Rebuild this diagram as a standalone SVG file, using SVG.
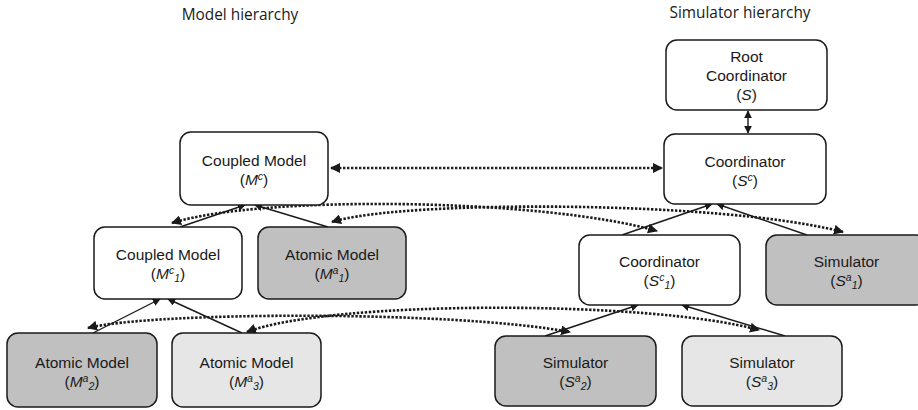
<svg xmlns="http://www.w3.org/2000/svg" width="918" height="410" viewBox="0 0 918 410">
<defs>
<style>
.box{stroke:#1a1a1a;stroke-width:1.5}
.w{fill:#ffffff}
.d{fill:#c0c0c0}
.l{fill:#e6e6e6}
.t{font-family:"Liberation Sans",Arial,sans-serif;font-size:15.5px;fill:#1a1a1a;text-anchor:middle}
.s{font-size:10.5px;font-style:italic}
.i{font-style:italic}
.title{font-family:"Open Sans","Liberation Sans",sans-serif;font-size:15.4px;fill:#1a1a1a;text-anchor:middle}
.solid{fill:none;stroke:#1a1a1a;stroke-width:1.4}
.dot{fill:none;stroke:#1a1a1a;stroke-width:2.6;stroke-dasharray:2.4 1.6}
</style>
<marker id="ah" viewBox="0 0 10 10" refX="9" refY="5" markerWidth="8" markerHeight="8" markerUnits="userSpaceOnUse" orient="auto-start-reverse">
<path d="M0,0 L10,5 L0,10 z" fill="#1a1a1a"/>
</marker>
<marker id="ahd" viewBox="0 0 10 10" refX="9" refY="5" markerWidth="10" markerHeight="10" markerUnits="userSpaceOnUse" orient="auto-start-reverse">
<path d="M0,0 L10,5 L0,10 z" fill="#1a1a1a"/>
</marker>
</defs>
<rect width="918" height="410" fill="#ffffff"/>
<text class="title" x="240" y="20">Model hierarchy</text>
<text class="title" x="740" y="18">Simulator hierarchy</text>

<g id="connectors">
<line class="solid" x1="180" y1="227" x2="245" y2="205" marker-end="url(#ah)"/>
<line class="solid" x1="328" y1="227" x2="255" y2="205" marker-end="url(#ah)"/>
<line class="solid" x1="93" y1="333" x2="160" y2="299" marker-end="url(#ah)"/>
<line class="solid" x1="242" y1="333" x2="168" y2="299" marker-end="url(#ah)"/>
<line class="solid" x1="622" y1="235" x2="712" y2="204" marker-end="url(#ah)"/>
<line class="solid" x1="807" y1="235" x2="717" y2="204" marker-end="url(#ah)"/>
<line class="solid" x1="545" y1="336" x2="638" y2="305" marker-end="url(#ah)"/>
<line class="solid" x1="785" y1="336" x2="682" y2="305" marker-end="url(#ah)"/>
<line class="solid" x1="748" y1="111" x2="748" y2="133" marker-start="url(#ah)" marker-end="url(#ah)"/>
<line class="dot" x1="331" y1="168" x2="662" y2="168" marker-start="url(#ahd)" marker-end="url(#ahd)"/>
<path class="dot" d="M172,223 C260,195 540,198 657,231" marker-start="url(#ahd)" marker-end="url(#ahd)"/>
<path class="dot" d="M332,222 C400,200 720,200 843,232" marker-start="url(#ahd)" marker-end="url(#ahd)"/>
<path class="dot" d="M88,328 C150,312 450,310 570,332" marker-start="url(#ahd)" marker-end="url(#ahd)"/>
<path class="dot" d="M247,332 C330,300 650,300 759,330" marker-start="url(#ahd)" marker-end="url(#ahd)"/>
</g>

<g id="mc">
<rect class="box w" x="180" y="132" width="148" height="73" rx="11"/>
<text class="t" x="254" y="166">Coupled Model</text>
<text class="t" x="254" y="185">(<tspan class="i">M</tspan><tspan class="s" dy="-5">c</tspan><tspan dy="5">)</tspan></text>
</g>
<g id="root">
<rect class="box w" x="666" y="40" width="161" height="70" rx="11"/>
<text class="t" x="746.5" y="62">Root</text>
<text class="t" x="746.5" y="81">Coordinator</text>
<text class="t" x="746.5" y="100">(<tspan class="i">S</tspan>)</text>
</g>
<g id="sc">
<rect class="box w" x="664" y="134" width="162" height="70" rx="11"/>
<text class="t" x="745" y="167">Coordinator</text>
<text class="t" x="745" y="186">(<tspan class="i">S</tspan><tspan class="s" dy="-5">c</tspan><tspan dy="5">)</tspan></text>
</g>
<g id="mc1">
<rect class="box w" x="94" y="227" width="148" height="72" rx="11"/>
<text class="t" x="168" y="260">Coupled Model</text>
<text class="t" x="168" y="279">(<tspan class="i">M</tspan><tspan class="s" dy="-5">c</tspan><tspan class="s" dy="8">1</tspan><tspan dy="-3">)</tspan></text>
</g>
<g id="ma1">
<rect class="box d" x="258" y="227" width="148" height="72" rx="11"/>
<text class="t" x="332" y="260">Atomic Model</text>
<text class="t" x="332" y="279">(<tspan class="i">M</tspan><tspan class="s" dy="-5">a</tspan><tspan class="s" dy="8">1</tspan><tspan dy="-3">)</tspan></text>
</g>
<g id="ma2">
<rect class="box d" x="7" y="333" width="150" height="74" rx="11"/>
<text class="t" x="82" y="368">Atomic Model</text>
<text class="t" x="82" y="387">(<tspan class="i">M</tspan><tspan class="s" dy="-5">a</tspan><tspan class="s" dy="8">2</tspan><tspan dy="-3">)</tspan></text>
</g>
<g id="ma3">
<rect class="box l" x="172" y="333" width="149" height="74" rx="11"/>
<text class="t" x="246.5" y="368">Atomic Model</text>
<text class="t" x="246.5" y="387">(<tspan class="i">M</tspan><tspan class="s" dy="-5">a</tspan><tspan class="s" dy="8">3</tspan><tspan dy="-3">)</tspan></text>
</g>
<g id="sc1">
<rect class="box w" x="579" y="235" width="161" height="70" rx="11"/>
<text class="t" x="659.5" y="267">Coordinator</text>
<text class="t" x="659.5" y="286">(<tspan class="i">S</tspan><tspan class="s" dy="-5">c</tspan><tspan class="s" dy="8">1</tspan><tspan dy="-3">)</tspan></text>
</g>
<g id="sa1">
<rect class="box d" x="766" y="235" width="161" height="70" rx="11"/>
<text class="t" x="846.5" y="267">Simulator</text>
<text class="t" x="846.5" y="286">(<tspan class="i">S</tspan><tspan class="s" dy="-5">a</tspan><tspan class="s" dy="8">1</tspan><tspan dy="-3">)</tspan></text>
</g>
<g id="sa2">
<rect class="box d" x="495" y="336" width="161" height="70" rx="11"/>
<text class="t" x="575.5" y="368">Simulator</text>
<text class="t" x="575.5" y="387">(<tspan class="i">S</tspan><tspan class="s" dy="-5">a</tspan><tspan class="s" dy="8">2</tspan><tspan dy="-3">)</tspan></text>
</g>
<g id="sa3">
<rect class="box l" x="682" y="336" width="160" height="70" rx="11"/>
<text class="t" x="762" y="368">Simulator</text>
<text class="t" x="762" y="387">(<tspan class="i">S</tspan><tspan class="s" dy="-5">a</tspan><tspan class="s" dy="8">3</tspan><tspan dy="-3">)</tspan></text>
</g>
</svg>
